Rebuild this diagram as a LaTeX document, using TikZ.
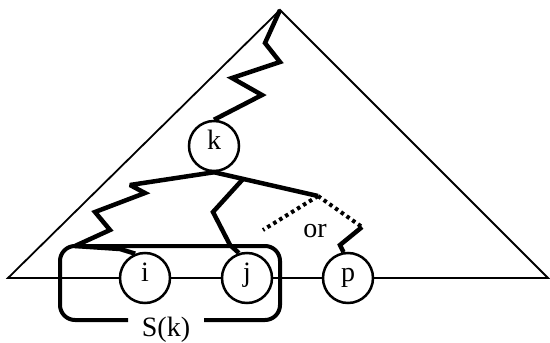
\documentclass[tikz,border=0pt]{standalone}
\usepackage{fontspec}
\setmainfont{Liberation Serif}
\begin{document}
\begin{tikzpicture}[x=1pt,y=-1pt,
  frame/.style={line width=1.8pt, line join=miter},
  thickpath/.style={line width=4.5pt, line join=miter, miter limit=3},
  dotpath/.style={line width=4pt, dash pattern=on 3.5pt off 3.5pt},
  vertex/.style={circle, draw, line width=2.5pt, fill=white, minimum size=50pt,
    inner sep=0pt, text height=0.72em, text depth=0pt, font=\fontsize{28}{30}\selectfont},
  lbl/.style={font=\fontsize{28}{30}\selectfont, inner sep=0pt, anchor=base}]
\useasboundingbox (0,0) rectangle (550,343);
\coordinate (apex) at (280,10);
\coordinate (bl) at (8,278);
\coordinate (br) at (548,278);
\draw[frame] (apex) -- (bl) -- (br) -- cycle;
\node[vertex] (k) at (214,146) {k};
\node[vertex] (i) at (145,278) {i};
\node[vertex] (j) at (247,278) {j};
\node[vertex] (p) at (348,278) {p};
% zigzag from root to k
\draw[thickpath] (apex) -- (265,43) -- (280,62) -- (232,78) -- (262,95) -- (k.north);
% left zigzag to i
\draw[thickpath] (k.south) -- (130,185) -- (145,193) -- (95,212) -- (110,230) -- (75,246) -- (120,249) -- (i.112);
% right branch
\coordinate (fork) at (318,196);
\draw[thickpath] (k.south) -- coordinate[pos=0.28] (kj) (fork);
\draw[thickpath] (kj) -- (213,212) -- (230,245) -- (j.108);
% alternatives
\coordinate (dl) at (263,230);
\coordinate (dr) at (362,227);
\draw[dotpath] (fork) -- (dl);
\draw[dotpath] (fork) -- (dr);
\draw[thickpath] (dr) -- (340,245) -- (p.100);
\node[lbl] (or) at (315,237) {or};
% set box S(k)
\draw[line width=4pt, rounded corners=15pt] (128,320) -- (60,320) -- (60,246) -- (280,246) -- (280,320) -- (204,320);
\node[lbl] (S) at (166,336) {S(k)};
\end{tikzpicture}
\end{document}
